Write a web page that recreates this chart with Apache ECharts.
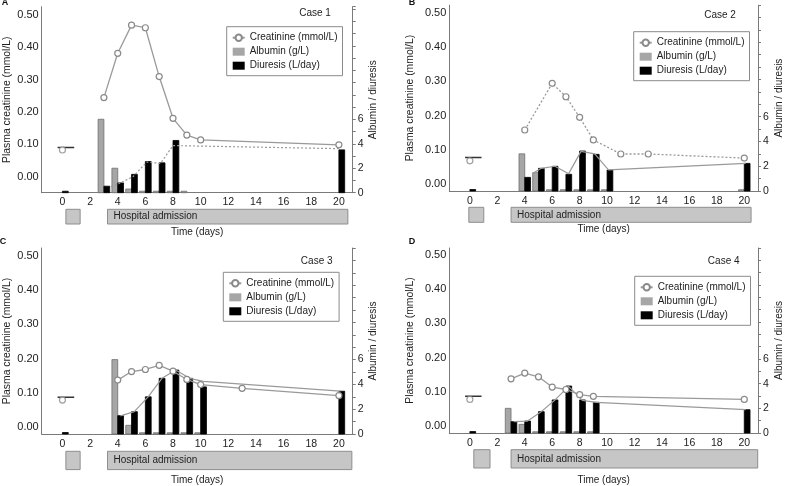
<!DOCTYPE html>
<html><head><meta charset="utf-8">
<script src="https://cdn.jsdelivr.net/npm/echarts@6/dist/echarts.min.js"></script>
<style>
html,body{margin:0;padding:0;background:#fff;}
#chart{width:785px;height:486px;}
</style></head>
<body><div id="chart"></div>
<script>
// ---------------- data ----------------
const xTickLabels = [0, 2, 4, 6, 8, 10, 12, 14, 16, 18, 20];
const creatinineTickLabels = [0, 0.1, 0.2, 0.3, 0.4, 0.5];
const albDiuTickLabels = [0, 2, 4, 6];
const caseNames = ['Case 1', 'Case 2', 'Case 3', 'Case 4'];
const panelLetters = ['A', 'B', 'C', 'D'];
const periodLabels = ['', 'Hospital admission'];

// Case 1
const case1CreatDays = [0, 3, 4, 5, 6, 7, 8, 9, 10, 20];
const case1Creat = [0.082, 0.244, 0.381, 0.468, 0.460, 0.309, 0.180, 0.128, 0.113, 0.098];
const case1AlbDays = [3, 4, 5, 6, 7, 8, 9];
const case1Alb = [6.0, 2.0, 0.3, 0.12, 0.12, 0.12, 0.12];
const case1DiuDays = [0, 3, 4, 5, 6, 7, 8, 20];
const case1Diu = [0.12, 0.53, 0.8, 1.5, 2.55, 2.44, 4.27, 3.5];
const case1TrendDays = [3.5, 4.1, 5.1, 6.1, 7.1, 8.0, 20.0];
const case1Trend = [0.5, 0.75, 1.3, 2.5, 2.4, 3.85, 3.6];
const case1Baseline = [-0.35, 0.85, 0.09];
const case1Periods = [[0.25, 1.28], [3.26, 20.65]];

// Case 2
const case2CreatDays = [0, 4, 6, 7, 8, 9, 11, 13, 20];
const case2Creat = [0.068, 0.158, 0.294, 0.255, 0.195, 0.129, 0.088, 0.088, 0.076];
const case2AlbDays = [4, 5, 6, 7, 8, 9, 10, 20];
const case2Alb = [3.0, 1.48, 0.1, 0.1, 0.1, 0.1, 0.1, 0.1];
const case2DiuDays = [0, 4, 5, 6, 7, 8, 9, 10, 20];
const case2Diu = [0.12, 1.1, 1.83, 1.99, 1.35, 3.23, 2.96, 1.69, 2.23];
const case2TrendDays = [4.6, 5.2, 6.2, 7.2, 8.1, 9.1, 10.1, 20.1];
const case2Trend = [1.43, 1.83, 2.0, 1.4, 3.2, 3.0, 1.7, 2.23];
const case2Baseline = [-0.35, 0.85, 0.078];
const case2Periods = [[-0.09, 0.99], [2.96, 20.29]];

// Case 3
const case3CreatDays = [0, 4, 5, 6, 7, 8, 9, 10, 13, 20];
const case3Creat = [0.079, 0.137, 0.162, 0.168, 0.180, 0.163, 0.139, 0.124, 0.113, 0.092];
const case3AlbDays = [4, 5, 6, 7, 8, 9, 10];
const case3Alb = [6.0, 0.7, 0.1, 0.1, 0.1, 0.1, 0.1];
const case3DiuDays = [0, 4, 5, 6, 7, 8, 9, 10, 20];
const case3Diu = [0.12, 1.48, 1.8, 3.0, 4.49, 5.16, 4.49, 3.8, 3.45];
const case3TrendDays = [4.2, 5.2, 6.2, 7.2, 8.2, 9.2, 10.2, 20.1];
const case3Trend = [1.46, 1.8, 3.0, 4.49, 5.16, 4.49, 4.25, 3.45];
const case3Baseline = [-0.35, 0.85, 0.087];
const case3Periods = [[0.25, 1.28], [3.26, 20.94]];

// Case 4
const case4CreatDays = [0, 3, 4, 5, 6, 7, 8, 9, 20];
const case4Creat = [0.078, 0.138, 0.155, 0.144, 0.114, 0.107, 0.092, 0.087, 0.078];
const case4AlbDays = [3, 4, 5, 6, 7, 8, 9];
const case4Alb = [2.0, 0.7, 0.1, 0.1, 0.1, 0.1, 0.1];
const case4DiuDays = [0, 3, 4, 5, 6, 7, 8, 9, 20];
const case4Diu = [0.12, 0.92, 0.97, 1.73, 2.68, 3.81, 2.68, 2.49, 1.89];
const case4TrendDays = [3.2, 4.2, 5.2, 6.2, 7.2, 8.2, 9.2, 20.1];
const case4Trend = [0.92, 0.97, 1.73, 2.68, 3.78, 2.65, 2.49, 1.89];
const case4Baseline = [-0.35, 0.85, 0.087];
const case4Periods = [[0.27, 1.44], [2.96, 20.77]];

// ---------------- layout / style (not data) ----------------
const FONT = '"Liberation Sans", Arial, Helvetica, sans-serif';
const BAR_W = 0.42;
const cases = [
  {creatDays: case1CreatDays, creat: case1Creat, albDays: case1AlbDays, alb: case1Alb, diuDays: case1DiuDays, diu: case1Diu, trendDays: case1TrendDays, trend: case1Trend, baseline: case1Baseline, periods: case1Periods},
  {creatDays: case2CreatDays, creat: case2Creat, albDays: case2AlbDays, alb: case2Alb, diuDays: case2DiuDays, diu: case2Diu, trendDays: case2TrendDays, trend: case2Trend, baseline: case2Baseline, periods: case2Periods},
  {creatDays: case3CreatDays, creat: case3Creat, albDays: case3AlbDays, alb: case3Alb, diuDays: case3DiuDays, diu: case3Diu, trendDays: case3TrendDays, trend: case3Trend, baseline: case3Baseline, periods: case3Periods},
  {creatDays: case4CreatDays, creat: case4Creat, albDays: case4AlbDays, alb: case4Alb, diuDays: case4DiuDays, diu: case4Diu, trendDays: case4TrendDays, trend: case4Trend, baseline: case4Baseline, periods: case4Periods}
];
const layouts = [
  {ox: 0, oy: 0, grid: [41.7, 6.7, 311, 186], yMin: -0.05, yMax: 0.525, yStep: 0.05, rMax: 15.2, box: [209.3, 14.7], legend: [226.7, 26.7], caseXY: [315, 13.3], letterXY: [5, 3], leftGap: 30, xLabelMargin: 4, xNameGap: 34.5, creatType: 'solid', trendType: [2, 2]},
  {ox: 392, oy: 0, grid: [57.3, 5.2, 311.6, 185.8], yMin: -0.02, yMax: 0.522, yStep: 0.02, rMax: 15, box: [207.3, 15], legend: [241.7, 31.7], caseXY: [328, 15], letterXY: [20, 3], leftGap: 34, xLabelMargin: 5, xNameGap: 33, creatType: [2, 2], trendType: 'solid'},
  {ox: 0, oy: 243, grid: [41.7, 5, 311, 186], yMin: -0.02, yMax: 0.522, yStep: 0.02, rMax: 15, box: [208.3, 18.3], legend: [223.3, 29.3], caseXY: [316.7, 18.3], letterXY: [3, -1], leftGap: 30, xLabelMargin: 5, xNameGap: 41, creatType: 'solid', trendType: 'solid'},
  {ox: 392, oy: 243, grid: [57.3, 5, 311.6, 185], yMin: -0.02, yMax: 0.52, yStep: 0.02, rMax: 15, box: [206.7, 18.3], legend: [242.7, 33.3], caseXY: [331.7, 18.3], letterXY: [20, -1], leftGap: 34, xLabelMargin: 5, xNameGap: 42, creatType: 'solid', trendType: 'solid'}
];

const near = (arr, v) => arr.some(t => Math.abs(t - v) < 1e-7);

function barRenderer(side, fill, stroke) {
  return function (params, api) {
    const d = api.value(0), v = api.value(1);
    const x0 = side < 0 ? d - BAR_W : d;
    const x1 = side < 0 ? d : d + BAR_W;
    const pTop = api.coord([x0, v]);
    const pBot = api.coord([x1, 0]);
    return {type: 'rect', shape: {x: pTop[0], y: pTop[1], width: pBot[0] - pTop[0], height: pBot[1] - pTop[1]},
      style: {fill: fill, stroke: stroke, lineWidth: 0.8}};
  };
}
function periodRenderer(params, api) {
  const a = api.coord([api.value(0), 1]);
  const b = api.coord([api.value(1), 0]);
  const children = [{type: 'rect', shape: {x: a[0], y: a[1], width: b[0] - a[0], height: b[1] - a[1]},
    style: {fill: '#c6c6c6', stroke: '#8e8e8e', lineWidth: 1}}];
  const label = periodLabels[params.dataIndex];
  if (label) children.push({type: 'text', x: a[0] + 6, y: (a[1] + b[1]) / 2,
    style: {text: label, fill: '#222', font: '10px ' + FONT, textAlign: 'left', textVerticalAlign: 'middle'}});
  return {type: 'group', children: children};
}

const option = {animation: false, textStyle: {fontFamily: FONT},
  grid: [], xAxis: [], yAxis: [], series: [], legend: [], graphic: []};

cases.forEach((c, i) => {
  const L = layouts[i];
  const gi = option.grid.length;
  option.grid.push({left: L.ox + L.grid[0], top: L.oy + L.grid[1], width: L.grid[2], height: L.grid[3]});
  option.grid.push({left: L.ox + L.grid[0], top: L.oy + L.box[0], width: L.grid[2], height: L.box[1]});
  const xi = option.xAxis.length;
  option.xAxis.push({type: 'value', gridIndex: gi, min: -1.5, max: 21, interval: 0.5,
    axisLine: {onZero: false, lineStyle: {color: '#7a7a7a', width: 1}}, axisTick: {show: false}, splitLine: {show: false},
    axisLabel: {formatter: v => near(xTickLabels, v) ? String(Math.round(v)) : '', fontSize: 10.5, color: '#222', margin: L.xLabelMargin},
    name: 'Time (days)', nameLocation: 'middle', nameGap: L.xNameGap, nameTextStyle: {fontSize: 10, color: '#222'}});
  option.xAxis.push({type: 'value', gridIndex: gi + 1, min: -1.5, max: 21, show: false});
  const yi = option.yAxis.length;
  option.yAxis.push({type: 'value', gridIndex: gi, position: 'left', min: L.yMin, max: L.yMax, interval: L.yStep,
    axisLine: {show: true, onZero: false, lineStyle: {color: '#7a7a7a', width: 1}}, axisTick: {show: false}, splitLine: {show: false},
    axisLabel: {formatter: v => near(creatinineTickLabels, v) ? Math.abs(v).toFixed(2) : '', fontSize: 11, color: '#222', margin: 3},
    name: 'Plasma creatinine (mmol/L)', nameLocation: 'middle', nameRotate: 90, nameGap: L.leftGap, nameTextStyle: {fontSize: 10.4, color: '#222'}});
  option.yAxis.push({type: 'value', gridIndex: gi, position: 'right', min: 0, max: L.rMax, interval: 1,
    axisLine: {show: true, onZero: false, lineStyle: {color: '#7a7a7a', width: 1}},
    axisTick: {show: true, length: 3, lineStyle: {color: '#7a7a7a'}}, splitLine: {show: false},
    axisLabel: {formatter: v => near(albDiuTickLabels, v) ? String(Math.round(v)) : '', fontSize: 10.5, color: '#222', margin: 5},
    name: 'Albumin / diuresis', nameLocation: 'middle', nameRotate: 90, nameGap: 16, nameTextStyle: {fontSize: 10, color: '#222'}});
  option.yAxis.push({type: 'value', gridIndex: gi + 1, min: 0, max: 1, show: false});

  option.series.push({name: 'Albumin (g/L)', type: 'custom', xAxisIndex: xi, yAxisIndex: yi + 1, z: 2,
    itemStyle: {color: '#a6a6a6', borderColor: '#666'}, renderItem: barRenderer(-1, '#a6a6a6', '#6e6e6e'),
    encode: {x: 0, y: 1}, data: c.albDays.map((d, k) => [d, c.alb[k]])});
  option.series.push({name: 'Diuresis (L/day)', type: 'custom', xAxisIndex: xi, yAxisIndex: yi + 1, z: 2,
    itemStyle: {color: '#000'}, renderItem: barRenderer(1, '#000', '#000'),
    encode: {x: 0, y: 1}, data: c.diuDays.map((d, k) => [d, c.diu[k]])});
  option.series.push({name: 'trend' + i, type: 'line', xAxisIndex: xi, yAxisIndex: yi + 1, z: 3, symbol: 'none', silent: true,
    lineStyle: {color: '#9a9a9a', width: 1.2, type: L.trendType}, data: c.trendDays.map((d, k) => [d, c.trend[k]])});
  const creatPts = c.creatDays.map((d, k) => [d, c.creat[k]]);
  const mark = {color: '#fff', borderColor: '#8a8a8a', borderWidth: 1.2};
  option.series.push({name: 'Creatinine (mmol/L)', type: 'line', xAxisIndex: xi, yAxisIndex: yi, z: 5,
    symbol: 'circle', symbolSize: 6, itemStyle: mark,
    lineStyle: {color: '#9a9a9a', width: 1.3, type: L.creatType}, data: creatPts.slice(1)});
  option.series.push({name: 'creat0_' + i, type: 'scatter', xAxisIndex: xi, yAxisIndex: yi, z: 5,
    symbol: 'circle', symbolSize: 6, itemStyle: mark, data: creatPts.slice(0, 1)});
  option.series.push({name: 'base' + i, type: 'line', xAxisIndex: xi, yAxisIndex: yi, z: 4, symbol: 'none',
    lineStyle: {color: '#333', width: 1.5}, data: [[c.baseline[0], c.baseline[2]], [c.baseline[1], c.baseline[2]]]});
  option.series.push({name: 'period' + i, type: 'custom', xAxisIndex: xi + 1, yAxisIndex: yi + 2, renderItem: periodRenderer,
    encode: {x: [0, 1]}, data: c.periods});

  option.legend.push({orient: 'vertical', left: L.ox + L.legend[0], top: L.oy + L.legend[1],
    itemWidth: 12, itemHeight: 8, itemGap: 4, padding: [6, 5, 5, 5], borderColor: '#8a8a8a', borderWidth: 1,
    backgroundColor: '#fff', selectedMode: false, textStyle: {fontSize: 10, color: '#222'},
    data: ['Creatinine (mmol/L)', {name: 'Albumin (g/L)', icon: 'rect'}, {name: 'Diuresis (L/day)', icon: 'rect'}]});

  option.graphic.push({type: 'text', x: L.ox + L.caseXY[0], y: L.oy + L.caseXY[1],
    style: {text: caseNames[i], fill: '#222', font: '10px ' + FONT, textAlign: 'center', textVerticalAlign: 'middle'}});
  option.graphic.push({type: 'text', x: L.ox + L.letterXY[0], y: L.oy + L.letterXY[1],
    style: {text: panelLetters[i], fill: '#111', font: 'bold 9px ' + FONT, textAlign: 'center', textVerticalAlign: 'middle'}});
});

const chart = echarts.init(document.getElementById('chart'), null, {renderer: 'canvas'});
chart.setOption(option);
</script>
</body></html>
